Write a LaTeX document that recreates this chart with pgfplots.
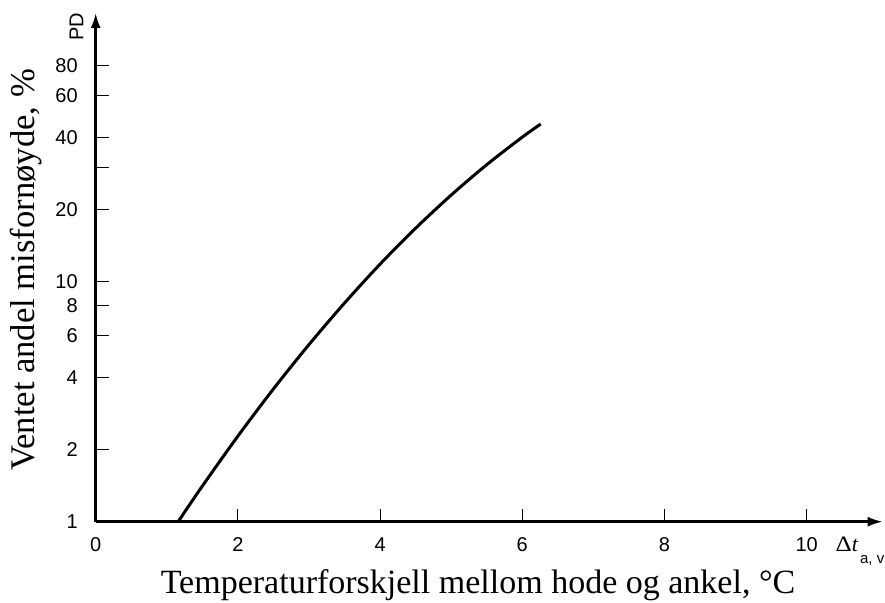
\documentclass[border=0pt]{standalone}
\usepackage{fontspec}
\setmainfont{Liberation Serif}
\newfontfamily\ar{Liberation Sans}
\usepackage{pgfplots}
\pgfplotsset{compat=1.18}
\usetikzlibrary{arrows.meta}
\begin{document}
\begin{tikzpicture}
\useasboundingbox (-47.85pt,-40.65pt) rectangle (394.65pt,260.85pt);
\begin{axis}[
  scale only axis, width=393.5pt, height=254.35pt,
  xmin=0, xmax=11.07, ymin=1, ymax=132.5, ymode=log,
  axis lines=left,
  axis line style={line width=1.2pt, -{Latex[length=7.5pt,width=5pt]}},
  tick align=inside, major tick length=6.5pt,
  every tick/.style={line width=0.5pt, black},
  minor tick num=0,
  xtick={0,2,4,6,8,10}, xticklabels={0,2,4,6,8,10},
  ytick={1,2,4,6,8,10,20,30,40,60,80},
  yticklabels={1,2,4,6,8,10,20,{},40,60,80},
  ticklabel style={font=\ar\fontsize{10}{11}\selectfont},
  xticklabel style={yshift=-4.5pt},
  yticklabel style={xshift=-5.5pt},
  clip=false,
]
\addplot[smooth, line width=1.5pt, black] coordinates {
(1.16,1.00) (1.5,1.408) (2.0,2.275) (2.5,3.58) (3.0,5.48) (3.5,8.17) (4.0,11.87)
(4.5,16.76) (5.0,23.04) (5.5,30.85) (6.0,40.19) (6.26,45.6)};
\end{axis}
\node[anchor=base, font=\fontsize{17}{19}\selectfont] at (191.15pt,-35.8pt) {Temperaturforskjell mellom hode og ankel, °C};
\node[anchor=base, rotate=90, font=\fontsize{17.3}{19}\selectfont] at (-30.35pt,125.85pt) {Ventet andel misfornøyde, \%};
\node[rotate=90, font=\ar\fontsize{10}{11}\selectfont, inner sep=0pt] at (-9.6pt,247.6pt) {PD};
\node[anchor=base west, inner sep=0pt] at (369.8pt,-15pt) {{\fontsize{11}{12}\selectfont \scalebox{1.15}[1]{Δ}\textit{t}}\hspace{0.8pt}\raisebox{-5.8pt}{\ar\fontsize{7.5}{8}\selectfont a, v}};
\end{tikzpicture}
\end{document}
